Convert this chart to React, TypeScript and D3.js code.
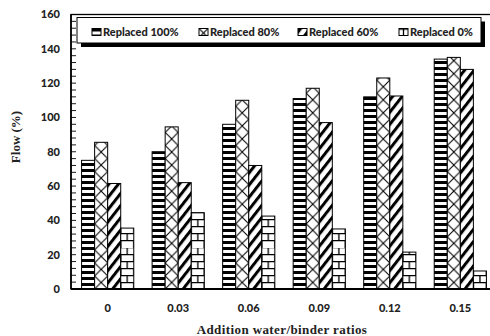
import React from "react";
import * as d3 from "d3";

const categories = ["0", "0.03", "0.06", "0.09", "0.12", "0.15"];
const seriesNames = ["Replaced 100%", "Replaced 80%", "Replaced 60%", "Replaced 0%"];
const replaced100 = [75, 80, 96, 111, 112, 134];
const replaced80 = [85.5, 94.5, 110, 117, 123, 135];
const replaced60 = [61.5, 62, 72, 97, 112.5, 128];
const replaced0 = [35.5, 44.5, 42.5, 35, 21.5, 10.5];
const yTicks = [0, 20, 40, 60, 80, 100, 120, 140, 160];
const xTitle = "Addition water/binder ratios";
const yTitle = "Flow (%)";

const seriesValues = [replaced100, replaced80, replaced60, replaced0];
const kinds = ["hstripe", "cross", "diag", "brick"];

function makePattern(kind: string, id: string, ox: number, oy: number, bw: number) {
  if (kind === "hstripe") {
    return (
      <pattern key={id} id={id} patternUnits="userSpaceOnUse" x={ox} y={oy} width={bw} height={6}>
        <rect width={bw} height={6} fill="#fff" />
        <rect y={0} width={bw} height={3} fill="#000" />
      </pattern>
    );
  }
  if (kind === "cross") {
    return (
      <pattern key={id} id={id} patternUnits="userSpaceOnUse" x={ox} y={oy} width={bw} height={bw}>
        <rect width={bw} height={bw} fill="#fff" />
        <path d={`M0,0L${bw},${bw}M${bw},0L0,${bw}`} stroke="#000" strokeWidth={1.1} />
      </pattern>
    );
  }
  if (kind === "diag") {
    return (
      <pattern key={id} id={id} patternUnits="userSpaceOnUse" x={ox} y={oy} width={7.5} height={7.5} patternTransform="rotate(38)">
        <rect width={7.5} height={7.5} fill="#fff" />
        <rect width={3} height={7.5} fill="#000" />
      </pattern>
    );
  }
  const h = 14;
  return (
    <pattern key={id} id={id} patternUnits="userSpaceOnUse" x={ox} y={oy} width={bw} height={h}>
      <rect width={bw} height={h} fill="#fff" />
      <path
        d={`M0,0.6H${bw}M0,7.6H${bw}M${bw / 2},0V7M0,7V14M${bw},7V14`}
        stroke="#000"
        strokeWidth={1.3}
        fill="none"
      />
    </pattern>
  );
}

export default function App() {
  const W = 490;
  const H = 336;
  const left = 71;
  const right = 497;
  const top = 14.5;
  const bottom = 289;

  const x0 = d3.scaleBand<string>().domain(categories).range([left, right]).paddingInner(0.26).paddingOuter(0.15);
  const x1 = d3.scaleBand<string>().domain(seriesNames).range([0, x0.bandwidth()]);
  const y = d3.scaleLinear().domain([0, 160]).range([bottom, top]);
  const bw = x1.bandwidth();
  const minorTicks = d3.range(0, 161, 4);

  const bars: any[] = [];
  const defs: any[] = [];
  categories.forEach((c, ci) => {
    seriesNames.forEach((s, si) => {
      const v = seriesValues[si][ci];
      const bx = (x0(c) ?? 0) + (x1(s) ?? 0);
      const id = `p-${ci}-${si}`;
      defs.push(makePattern(kinds[si], id, bx, bottom, bw));
      bars.push(
        <rect key={id} x={bx} y={y(v)} width={bw} height={bottom - y(v)} fill={`url(#${id})`} stroke="#000" strokeWidth={1} />
      );
    });
  });

  const legendX = 77;
  const legendY = 17.5;
  const legendW = 404;
  const legendH = 25.5;
  const itemX = [92, 199, 298, 399];
  const sw = 9;
  const sh = 7;
  seriesNames.forEach((s, si) => {
    defs.push(makePattern(kinds[si], `lg-${si}`, itemX[si], legendY + 11, 9));
  });

  const sansFont = "Lato, 'Open Sans', sans-serif";
  const serifFont = "'Liberation Serif', 'DejaVu Serif', serif";

  return (
    <svg width={W} height={H} style={{ position: "absolute", left: 0, top: 0, background: "#fff" }}>
      <defs>{defs}</defs>
      <rect x={0} y={0} width={W} height={H} fill="#fff" />
      <rect x={left} y={top} width={right - left} height={bottom - top} fill="none" stroke="#000" strokeWidth={1.3} />
      {bars}
      <line x1={left} x2={left} y1={top} y2={bottom} stroke="#000" strokeWidth={1.6} />
      <line x1={left} x2={W} y1={bottom} y2={bottom} stroke="#000" strokeWidth={2.2} />
      {minorTicks.map((t) => (
        <line key={`mt${t}`} x1={left} x2={left + 5} y1={y(t)} y2={y(t)} stroke="#000" strokeWidth={0.9} />
      ))}
      {yTicks.map((t) => (
        <text
          key={`yt${t}`}
          x={60}
          y={y(t)}
          dy="0.35em"
          textAnchor="end"
          fontFamily={sansFont}
          fontWeight="900"
          fontSize={11}
          fill="#222"
        >
          {t}
        </text>
      ))}
      {categories.map((c) => (
        <text
          key={`xt${c}`}
          x={(x0(c) ?? 0) + x0.bandwidth() / 2}
          y={312}
          textAnchor="middle"
          fontFamily={sansFont}
          fontWeight="900"
          fontSize={11}
          fill="#222"
        >
          {c}
        </text>
      ))}
      <rect x={legendX + 4} y={legendY + 4} width={legendW} height={legendH} fill="#000" />
      <rect x={legendX} y={legendY} width={legendW} height={legendH} fill="#fff" stroke="#000" strokeWidth={1} />
      {seriesNames.map((s, si) => (
        <g key={`lg${si}`}>
          <rect
            x={itemX[si]}
            y={legendY + 11}
            width={sw}
            height={sh}
            fill={`url(#lg-${si})`}
            stroke="#000"
            strokeWidth={1}
          />
          <text
            x={itemX[si] + 11}
            y={legendY + 14.5}
            dy="0.35em"
            fontFamily={sansFont}
            fontWeight="900"
            fontSize={11}
            fill="#222"
          >
            {s}
          </text>
        </g>
      ))}
      <text
        transform={`translate(15,137) rotate(-90)`}
        textAnchor="middle"
        dy="0.35em"
        fontFamily={serifFont}
        fontWeight="bold"
        fontSize={13}
        fill="#222"
      >
        {yTitle}
      </text>
      <text
        x={282}
        y={334}
        textAnchor="middle"
        fontFamily={serifFont}
        fontWeight="bold"
        fontSize={13}
        letterSpacing={0.4}
        fill="#222"
      >
        {xTitle}
      </text>
    </svg>
  );
}
